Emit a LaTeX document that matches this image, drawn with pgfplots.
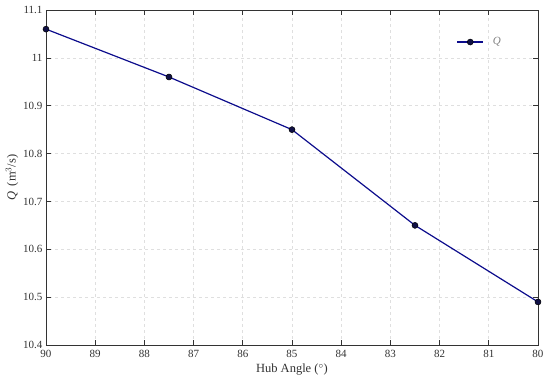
\documentclass[border=0pt]{standalone}
\usepackage{fontspec}
\setmainfont{Liberation Serif}
\usepackage{pgfplots}
\pgfplotsset{compat=1.18}
\definecolor{linec}{RGB}{12,12,140}
\definecolor{markc}{RGB}{16,16,70}
\definecolor{txt}{RGB}{50,50,50}
\begin{document}
\begin{tikzpicture}
\begin{axis}[
  scale only axis,
  width=492pt, height=335pt,
  x dir=reverse,
  xmin=80, xmax=90, ymin=10.4, ymax=11.1,
  xtick={80,81,...,90},
  ytick={10.4,10.5,10.6,10.7,10.8,10.9,11,11.1},
  yticklabels={10.4,10.5,10.6,10.7,10.8,10.9,11,11.1},
  tick align=inside,
  major tick length=5pt,
  grid=major,
  major grid style={dashed, gray!25, line width=0.6pt},
  axis line style={black!80, line width=0.6pt},
  tick style={black!80, line width=0.6pt},
  ticklabel style={font=\fontsize{11}{12}\selectfont, text=txt},
  xticklabel style={yshift=-2pt},
  /pgf/number format/assume math mode=true,
  xlabel={Hub Angle ($^\circ$)},
  ylabel={\textit{Q}\, (m$^3$/s)},
  label style={font=\fontsize{12.5}{14}\selectfont, text=txt},
  xlabel style={yshift=1pt},
  ylabel style={yshift=-2pt},
  legend style={draw=none, fill=none, at={(0.935,0.93)}, anchor=north east, font=\fontsize{11}{12}\selectfont\itshape, text=gray},
  legend cell align=left,
  legend image code/.code={\draw[mark repeat=2,mark phase=2] plot coordinates {(0pt,0pt) (13pt,0pt) (26pt,0pt)};},
]
\addplot[color=linec, line width=1.2pt, mark=*, mark size=3pt, mark options={fill=markc, draw=black, line width=0.5pt}]
coordinates {(90,11.06) (87.5,10.96) (85,10.85) (82.5,10.65) (80,10.49)};
\addlegendentry{\hspace{7pt}Q}
\end{axis}
\pgfresetboundingbox
\path ([shift={(-46pt,-37pt)}]current axis.south west) rectangle ([shift={(12pt,10pt)}]current axis.north east);
\end{tikzpicture}
\end{document}
